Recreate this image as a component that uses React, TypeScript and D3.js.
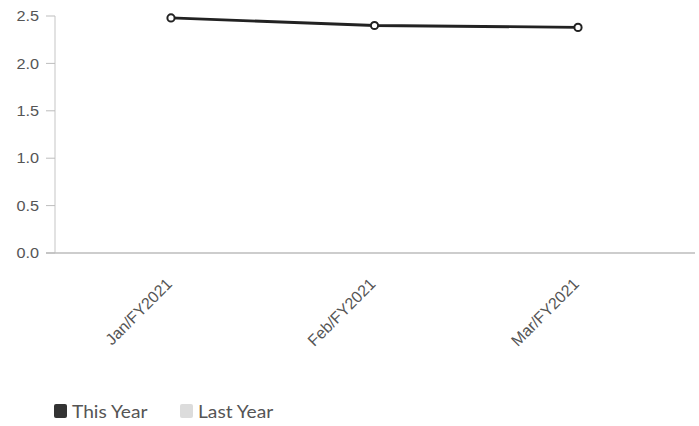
import React from "react";
import * as d3 from "d3";

const months = ["Jan/FY2021", "Feb/FY2021", "Mar/FY2021"];
const thisYear = [2.48, 2.4, 2.38];
const yTicks = [0, 0.5, 1.0, 1.5, 2.0, 2.5];
const legendItems = ["This Year", "Last Year"];
const legendColors = ["#333333", "#dcdcdc"];

const W = 699;
const H = 426;

export default function App() {
  const x = d3.scalePoint<string>().domain(months).range([55, 694]).padding(0.57);
  const y = d3.scaleLinear().domain([0, 2.5]).range([253, 16]);
  const line = d3
    .line<number>()
    .x((_, i) => x(months[i]) as number)
    .y((d) => y(d));

  const axisFont = "'Liberation Sans', Arial, sans-serif";

  return (
    <svg
      width={W}
      height={H}
      style={{ position: "absolute", left: 0, top: 0, background: "#fff" }}
    >
      {/* y axis */}
      <line x1={55} x2={55} y1={y(2.5)} y2={y(0)} stroke="#cfcfcf" strokeWidth={1.2} />
      {yTicks.map((t) => (
        <g key={t}>
          <line x1={46} x2={55} y1={y(t)} y2={y(t)} stroke="#bdbdbd" strokeWidth={1} />
          <text
            x={39}
            y={y(t)}
            dy="0.36em"
            textAnchor="end"
            fontFamily={axisFont}
            fontSize={14.5}
            fill="#555"
            style={{ transform: "scaleX(1.12)", transformBox: "fill-box", transformOrigin: "right" }}
          >
            {t.toFixed(1)}
          </text>
        </g>
      ))}

      {/* x axis */}
      <line x1={46} x2={695} y1={y(0)} y2={y(0)} stroke="#bdbdbd" strokeWidth={1.3} />
      {months.map((m) => {
        const px = (x(m) as number) + 2;
        const py = 285;
        return (
          <text
            key={m}
            x={px}
            y={py}
            textAnchor="end"
            transform={`rotate(-45 ${px} ${py})`}
            fontFamily={axisFont}
            fontSize={16}
            fill="#555"
          >
            {m}
          </text>
        );
      })}

      {/* series line */}
      <path d={line(thisYear) || ""} fill="none" stroke="#222" strokeWidth={2.8} />
      {thisYear.map((v, i) => (
        <circle
          key={i}
          cx={x(months[i]) as number}
          cy={y(v)}
          r={3.6}
          fill="#fff"
          stroke="#222"
          strokeWidth={2}
        />
      ))}

      {/* legend */}
      {legendItems.map((name, i) => {
        const lx = i === 0 ? 54 : 180;
        return (
          <g key={name}>
            <rect x={lx} y={404} width={13} height={14} rx={2} fill={legendColors[i]} />
            <text
              x={lx + 18}
              y={418}
              fontFamily="Lato, sans-serif"
              fontSize={17}
              fill="#555"
              style={{ transform: "scaleX(1.13)", transformBox: "fill-box", transformOrigin: "left" }}
            >
              {name}
            </text>
          </g>
        );
      })}
    </svg>
  );
}
